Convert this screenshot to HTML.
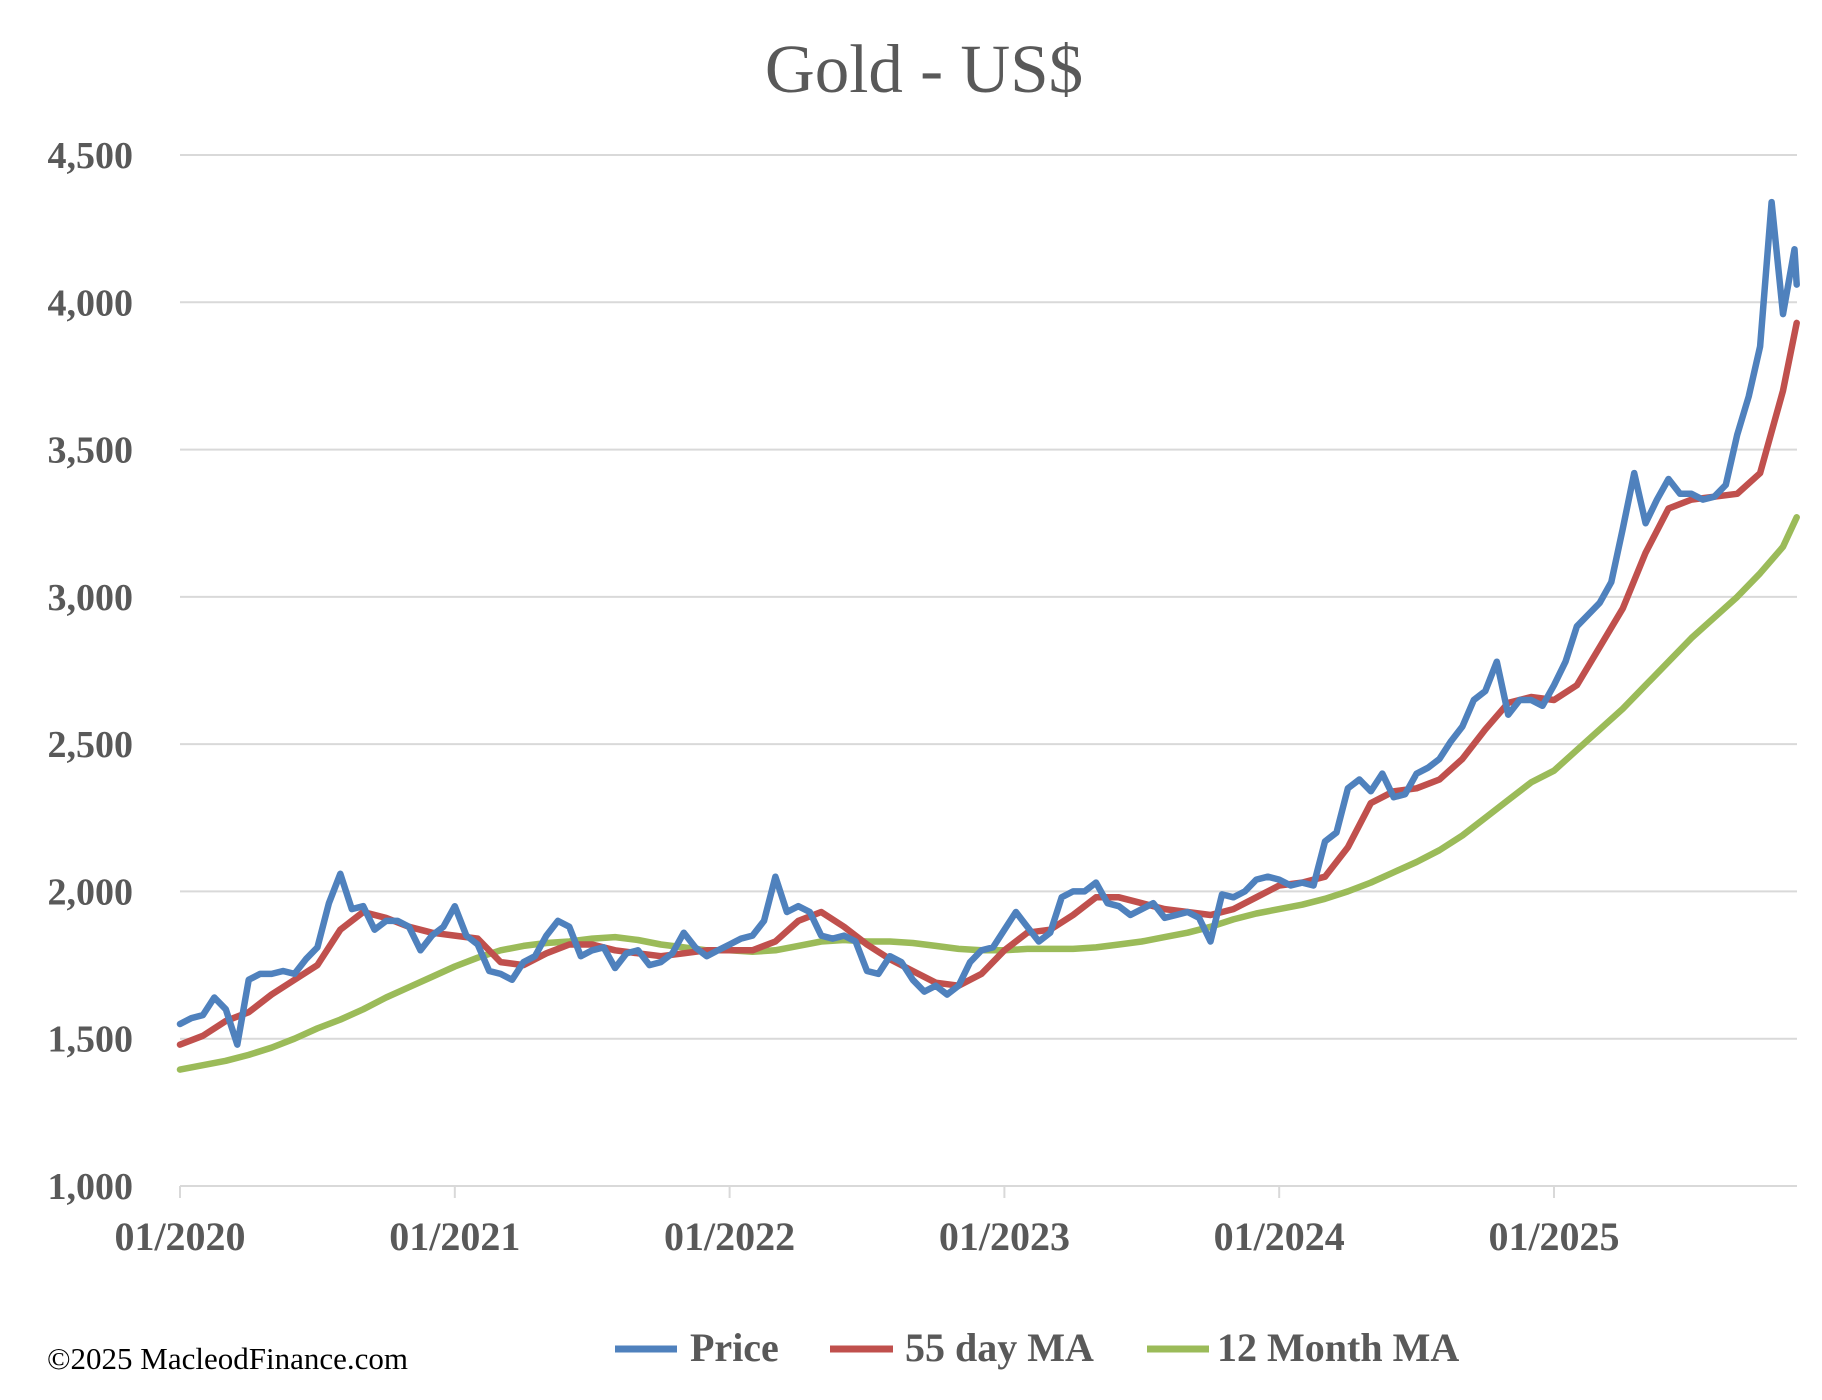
<!DOCTYPE html>
<html><head><meta charset="utf-8"><title>Gold - US$</title>
<style>
html,body{margin:0;padding:0;background:#fff;}
svg{display:block;}
text{font-family:"Liberation Serif",serif;}
</style></head>
<body>
<svg id="chart" width="1822" height="1400" viewBox="0 0 1822 1400" xmlns="http://www.w3.org/2000/svg">
<rect width="1822" height="1400" fill="#fff"/>
<text x="924" y="92" text-anchor="middle" font-size="69" fill="#595959">Gold - US$</text>
<g id="grid"></g>
<g id="yticks"></g>
<g id="xticks"></g>
<g id="series"></g>
<g>
 <g>
  <line x1="615" y1="1349" x2="677" y2="1349" stroke="#4f81bd" stroke-width="7"/>
  <text x="690" y="1361" font-size="40" font-weight="bold" fill="#595959">Price</text>
 </g>
 <g>
  <line x1="830" y1="1349" x2="893" y2="1349" stroke="#c0504d" stroke-width="7"/>
  <text x="905" y="1361" font-size="40" font-weight="bold" fill="#595959">55 day MA</text>
 </g>
 <g>
  <line x1="1147" y1="1349" x2="1209" y2="1349" stroke="#9bbb59" stroke-width="7"/>
  <text x="1217" y="1361" font-size="40" font-weight="bold" fill="#595959">12 Month MA</text>
 </g>
</g>
<text x="47" y="1369" font-size="31" fill="#000">©2025 MacleodFinance.com</text>
</svg>
<script>
// month index 0 = 01/2020
const yTicks = [1000,1500,2000,2500,3000,3500,4000,4500];
const yTickLabels = ["1,000","1,500","2,000","2,500","3,000","3,500","4,000","4,500"];
const xTickMonths = [0,12,24,36,48,60];
const xTickLabels = ["01/2020","01/2021","01/2022","01/2023","01/2024","01/2025"];
const endMonth = 70.6;
// Price: semi-monthly samples starting t=0, step 0.5 month
const priceValues = [
 1550,1570,1580,1640,1600,1480,1700,1720,1720,1730,1720,1770,1810,1960,2060,1940,1950,1870,1900,1900,1880,1800,1850,1880,
 1950,1850,1820,1730,1720,1700,1760,1780,1850,1900,1880,1780,1800,1810,1740,1790,1800,1750,1760,1790,1860,1810,1780,1800,
 1820,1840,1850,1900,2050,1930,1950,1930,1850,1840,1850,1830,1730,1720,1780,1760,1700,1660,1680,1650,1680,1760,1800,1810,
 1870,1930,1880,1830,1860,1980,2000,2000,2030,1960,1950,1920,1940,1960,1910,1920,1930,1910,1830,1990,1980,2000,2040,2050,
 2040,2020,2030,2020,2170,2200,2350,2380,2340,2400,2320,2330,2400,2420,2450,2510,2560,2650,2680,2780,2600,2650,2650,2630,
 2700,2780,2900,2940,2980,3050,3230,3420,3250,3330,3400,3350,3350,3330,3340,3380,3550,3680,3850,4340,3960,4180,4060
];
// 55 day MA: monthly samples t=0..70, then end
const ma55Values = [
 1480,1510,1560,1590,1650,1700,1750,1870,1930,1910,1880,1860,
 1850,1840,1760,1750,1790,1820,1820,1800,1790,1780,1790,1800,
 1800,1800,1830,1900,1930,1880,1820,1770,1730,1690,1680,1720,
 1800,1860,1870,1920,1980,1980,1960,1940,1930,1920,1940,1980,
 2020,2030,2050,2150,2300,2340,2350,2380,2450,2550,2640,2660,
 2650,2700,2830,2960,3150,3300,3330,3340,3350,3420,3700,3930
];
// 12 month MA: monthly samples t=0..70, then end
const ma12Values = [
 1395,1410,1425,1445,1470,1500,1535,1565,1600,1640,1675,1710,
 1745,1775,1800,1815,1825,1830,1840,1845,1835,1820,1810,1800,
 1800,1795,1800,1815,1830,1835,1830,1830,1825,1815,1805,1800,
 1800,1805,1805,1805,1810,1820,1830,1845,1860,1880,1905,1925,
 1940,1955,1975,2000,2030,2065,2100,2140,2190,2250,2310,2370,
 2410,2480,2550,2620,2700,2780,2860,2930,3000,3080,3170,3270
];

const X0 = 180, YEARW = 274.8, XEND = 1797;
const yTop = 155, yBot = 1186, vTop = 4500, vBot = 1000;
function xScale(m){ return X0 + m/12*YEARW; }
function yScale(v){ return yBot - (v - vBot)/(vTop - vBot)*(yBot - yTop); }
const NS = "http://www.w3.org/2000/svg";
function mk(tag, attrs){ const e = document.createElementNS(NS, tag); for (const k in attrs) e.setAttribute(k, attrs[k]); return e; }

const grid = document.getElementById('grid');
const yt = document.getElementById('yticks');
yTicks.forEach((v,i)=>{
  const y = yScale(v);
  const ln = mk('line',{x1:X0,x2:XEND,y1:y,y2:y,stroke:'#d9d9d9','stroke-width':2});
  
  
  grid.appendChild(ln);
  const t = mk('text',{x:133,y:y+13,'text-anchor':'end','font-size':38,'font-weight':'bold',fill:'#595959'});
  t.textContent = yTickLabels[i];
  
  
  yt.appendChild(t);
});
const xt = document.getElementById('xticks');
xTickMonths.forEach((m,i)=>{
  const x = xScale(m);
  const tk = mk('line',{x1:x,x2:x,y1:yBot,y2:yBot+12,stroke:'#d9d9d9','stroke-width':2});
  
  
  xt.appendChild(tk);
  const t = mk('text',{x:x,y:1250,'text-anchor':'middle','font-size':40,'font-weight':'bold',fill:'#595959'});
  t.textContent = xTickLabels[i];
  
  
  xt.appendChild(t);
});

function monthsFor(values, step){
  return values.map((v,i)=> i === values.length-1 ? endMonth : i*step);
}
const series = document.getElementById('series');
function drawLine(values, step, color, name){
  const ms = monthsFor(values, step);
  const d = values.map((v,i)=> (i?'L':'M') + xScale(ms[i]).toFixed(1) + ',' + yScale(v).toFixed(1)).join(' ');
  const p = mk('path',{d:d,fill:'none',stroke:color,'stroke-width':6.5,'stroke-linejoin':'round','stroke-linecap':'round'});
  
  
  series.appendChild(p);
}
drawLine(ma12Values, 1, '#9bbb59', 'line-12-month-ma');
drawLine(ma55Values, 1, '#c0504d', 'line-55-day-ma');
drawLine(priceValues, 0.5, '#4f81bd', 'line-price');
</script>
</body></html>
